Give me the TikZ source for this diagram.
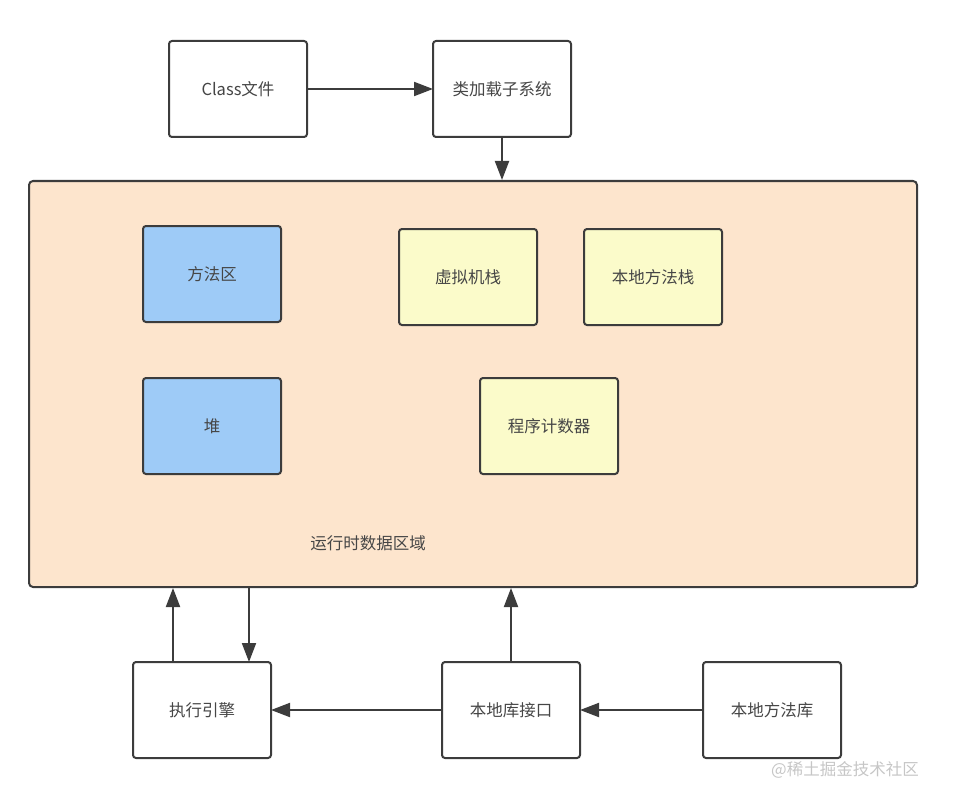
\documentclass[tikz,border=0pt]{standalone}
\usepackage{fontspec}
\setmainfont{Noto Sans CJK SC}
\usetikzlibrary{arrows.meta,positioning}
\definecolor{ink}{RGB}{60,60,60}
\definecolor{txt}{RGB}{70,70,70}
\definecolor{cRt}{RGB}{253,229,205}
\definecolor{cHeap}{RGB}{158,203,247}
\definecolor{cStk}{RGB}{251,251,202}
\tikzset{
  blk/.style={draw=ink,line width=2pt,rounded corners=3pt,fill=white,
    minimum width=138pt,minimum height=96pt,inner sep=0pt,outer sep=0pt,
    text=txt,font=\fontsize{16.5}{19}\selectfont},
  fl/.style={-{Triangle[length=19pt,width=14pt]},draw=ink,line width=2pt},
}

\begin{document}
\begin{tikzpicture}[x=1pt,y=-1pt,
  shared/.style={blk,fill=cHeap},
  own/.style={blk,fill=cStk}]
  \useasboundingbox (0,0) rectangle (976,805);
  % loading
  \node[blk] (cls)    at (238,89)  {Class文件};
  \node[blk] (loader) at (502,89)  {类加载子系统};
  % runtime data area
  \node[draw=ink,line width=2pt,rounded corners=4pt,fill=cRt,
        minimum width=888pt,minimum height=406pt,inner sep=0pt] (rt) at (473,384) {};
  \node[text=txt,font=\fontsize{16.5}{19}\selectfont] (rtname) at (368,543) {运行时数据区域};
  \node[shared] (meth) at (212,274) {方法区};
  \node[shared] (heap) at (212,426) {堆};
  \node[own]    (vms)  at (468,277) {虚拟机栈};
  \node[own]    (nms)  at (653,277) {本地方法栈};
  \node[own]    (pc)   at (549,426) {程序计数器};
  % execution and native side
  \node[blk] (exe) at (202,710) {执行引擎};
  \node[blk] (jni) at (511,710) {本地库接口};
  \node[blk] (lib) at (772,710) {本地方法库};
  \node[text=gray!45,font=\fontsize{16.5}{19}\selectfont] (mark) at (845,770) {@稀土掘金技术社区};
  % edges
  \draw[fl] (cls) -- (loader);
  \draw[fl] (loader) -- (loader |- rt.north);
  \draw[fl] ([xshift=-29pt]exe.north) -- ([xshift=-29pt]exe.north |- rt.south);
  \draw[fl] ([xshift=47pt]exe.north |- rt.south) -- ([xshift=47pt]exe.north);
  \draw[fl] (jni) -- (jni |- rt.south);
  \draw[fl] (jni) -- (exe);
  \draw[fl] (lib) -- (jni);
\end{tikzpicture}
\end{document}
